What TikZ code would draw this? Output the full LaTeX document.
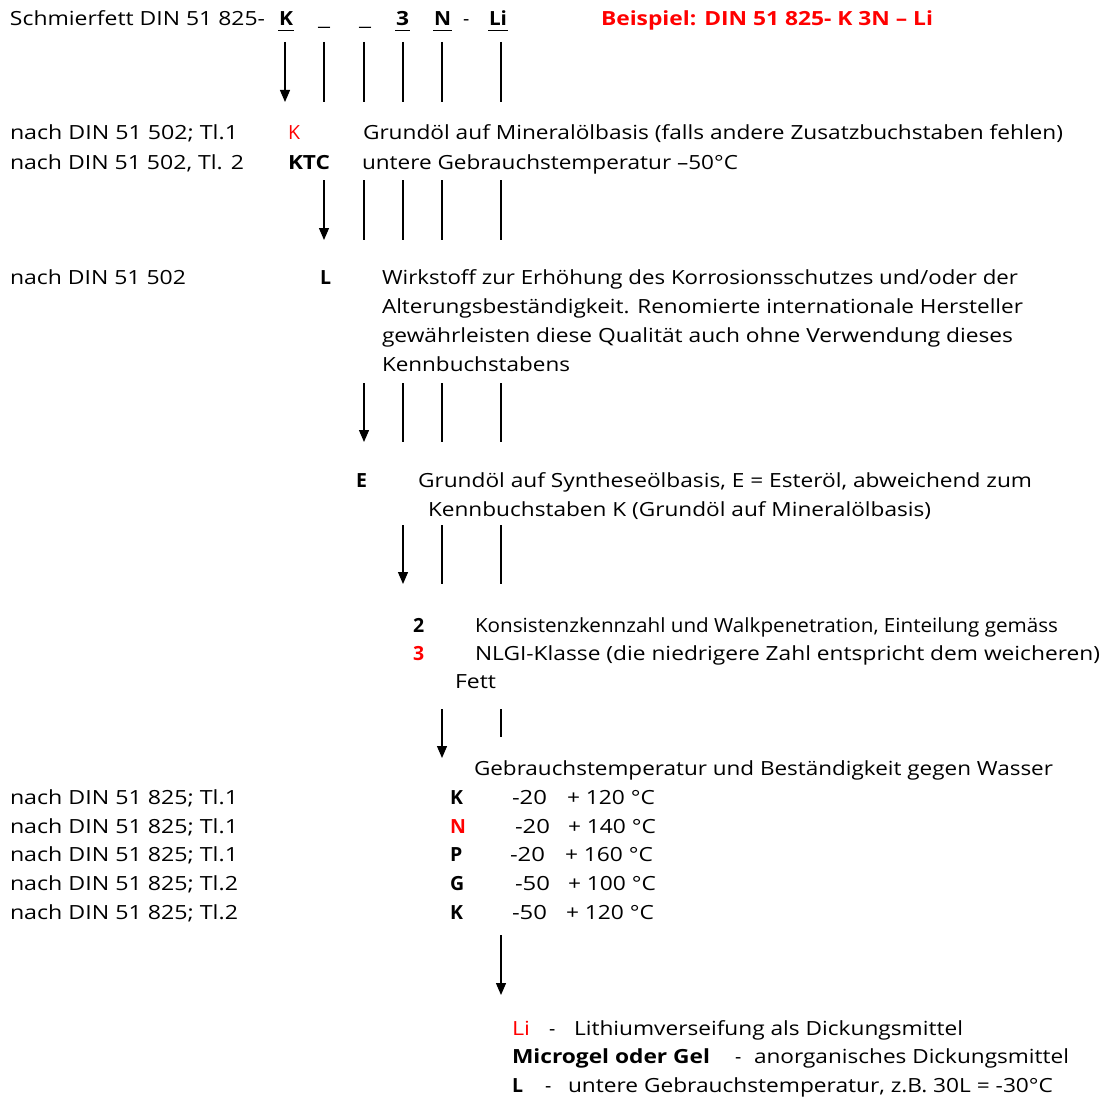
\documentclass[tikz,border=0pt]{standalone}
\usepackage{fontspec}
\setmainfont{Open Sans}
\usepackage{graphicx}
\usetikzlibrary{arrows.meta}
\newsavebox\fitbox
\newcommand\fitto[2]{\sbox\fitbox{#2}\pgfmathsetmacro\fitfac{#1/\the\wd\fitbox}\scalebox{\fitfac}[1]{\usebox\fitbox}}
\newcommand\fs{\fontsize{19.5}{23}\selectfont}
\begin{document}
\begin{tikzpicture}[x=1pt,y=-1pt,
  every node/.style={inner sep=0pt,outer sep=0pt,anchor=base west,font=\fs},
  bld/.style={font=\fs\bfseries},
  rd/.style={text=red},
  ln/.style={line width=1.8pt},
  arr/.style={line width=1.3pt,-{Triangle[length=12pt,width=10pt]}},
  ul/.style={line width=1.5pt}]
\useasboundingbox (0,0) rectangle (1111,1097);
% header
\node (h0) at (10,26) {\fitto{255}{Schmierfett DIN 51 825-}};
\node[bld] (hK) at (279,26) {\fitto{14}{K}};
\node (hu1) at (318,26) {\fitto{12}{\_}};
\node (hu2) at (359,26) {\fitto{12}{\_}};
\node[bld] (h3) at (396,26) {\fitto{13}{3}};
\node[bld] (hN) at (434,26) {\fitto{17}{N}};
\node (hd) at (463,26) {-};
\node[bld] (hLi) at (489,26) {\fitto{18}{Li}};
\foreach \n in {hK,h3,hN,hLi}{\draw[ul] ([xshift=-1pt,yshift=-4.5pt]\n.base west) -- ([xshift=1pt,yshift=-4.5pt]\n.base east);}
\node[bld,rd] (bsp) at (601,26) {\fitto{332}{Beispiel: DIN 51 825- K 3N – Li}};
% row 1 connectors
\foreach \x/\n in {285/a,324/b,364/c,403/d,442/e,501/f}{
  \coordinate (r1\n s) at (\x,42); \coordinate (r1\n e) at (\x,102);}
\draw[arr] (r1as) -- (r1ae);
\foreach \n in {b,c,d,e,f}{\draw[ln] (r1\n s) -- (r1\n e);}
% K rows
\node (k1l) at (10,140) {\fitto{228}{nach DIN 51 502; Tl.1}};
\node[rd] (k1c) at (288,140) {K};
\node (k1t) at (363,140) {\fitto{700}{Grundöl auf Mineralölbasis (falls andere Zusatzbuchstaben fehlen)}};
\node (k2l) at (10,169) {\fitto{234}{nach DIN 51 502, Tl. 2}};
\node[bld] (k2c) at (288,169) {\fitto{42}{KTC}};
\node (k2t) at (362,169) {\fitto{376}{untere Gebrauchstemperatur –50°C}};
% row 2 connectors
\foreach \x/\n in {324/b,364/c,403/d,442/e,501/f}{
  \coordinate (r2\n s) at (\x,180); \coordinate (r2\n e) at (\x,240);}
\draw[arr] (r2bs) -- (r2be);
\foreach \n in {c,d,e,f}{\draw[ln] (r2\n s) -- (r2\n e);}
% L row
\node (l0) at (10,284) {\fitto{176}{nach DIN 51 502}};
\node[bld] (lc) at (320,284) {L};
\node (lt1) at (382,284) {\fitto{636}{Wirkstoff zur Erhöhung des Korrosionsschutzes und/oder der}};
\node (lt2) at (382,313) {\fitto{641}{Alterungsbeständigkeit. Renomierte internationale Hersteller}};
\node (lt3) at (382,342) {\fitto{631}{gewährleisten diese Qualität auch ohne Verwendung dieses}};
\node (lt4) at (382,371) {\fitto{188}{Kennbuchstabens}};
% row 3 connectors
\foreach \x/\n in {364/c,403/d,442/e,501/f}{
  \coordinate (r3\n s) at (\x,383); \coordinate (r3\n e) at (\x,442);}
\draw[arr] (r3cs) -- (r3ce);
\foreach \n in {d,e,f}{\draw[ln] (r3\n s) -- (r3\n e);}
% E row
\node[bld] (ec) at (356,487) {E};
\node (et1) at (418,487) {\fitto{614}{Grundöl auf Syntheseölbasis, E = Esteröl, abweichend zum}};
\node (et2) at (428,516) {\fitto{503}{Kennbuchstaben K (Grundöl auf Mineralölbasis)}};
% row 4 connectors
\foreach \x/\n in {403/d,442/e,501/f}{
  \coordinate (r4\n s) at (\x,525); \coordinate (r4\n e) at (\x,584);}
\draw[arr] (r4ds) -- (r4de);
\foreach \n in {e,f}{\draw[ln] (r4\n s) -- (r4\n e);}
% NLGI
\node[bld] (n2) at (413,632) {2};
\node (nt1) at (475,632) {\fitto{583}{Konsistenzkennzahl und Walkpenetration, Einteilung gemäss}};
\node[bld,rd] (n3) at (413,660) {3};
\node (nt2) at (475,660) {\fitto{625}{NLGI-Klasse (die niedrigere Zahl entspricht dem weicheren)}};
\node (nt3) at (455,688) {\fitto{41}{Fett}};
% row 5 connectors
\coordinate (r5es) at (442,709); \coordinate (r5ee) at (442,758);
\coordinate (r5fs) at (501,709); \coordinate (r5fe) at (501,737);
\draw[arr] (r5es) -- (r5ee);
\draw[ln] (r5fs) -- (r5fe);
% temperature table
\node (gt) at (474,775) {\fitto{579}{Gebrauchstemperatur und Beständigkeit gegen Wasser}};
\foreach \y/\tl/\c/\cl/\xa/\ta/\xb/\tb/\nm in {
   804/1/K/black/512/-20/567/{+ 120 °C}/1,
   833/1/N/red/515/-20/568/{+ 140 °C}/2,
   861/1/P/black/510/-20/565/{+ 160 °C}/3,
   890/2/G/black/515/-50/568/{+ 100 °C}/4,
   919/2/K/black/512/-50/566/{+ 120 °C}/5}{
  \node (tl\nm) at (10,\y) {\fitto{228}{nach DIN 51 825; Tl.\tl}};
  \node[bld,text=\cl] (tc\nm) at (450,\y) {\c};
  \node (ta\nm) at (\xa,\y) {\fitto{35}{\ta}};
  \node (tb\nm) at (\xb,\y) {\fitto{88}{\tb}};
}
% row 6 connector
\coordinate (r6fs) at (501,935); \coordinate (r6fe) at (501,995);
\draw[arr] (r6fs) -- (r6fe);
% thickener
\node[rd] (li) at (512,1035) {\fitto{18}{Li}};
\node (lid) at (549,1035) {-};
\node (lit) at (574,1035) {\fitto{389}{Lithiumverseifung als Dickungsmittel}};
\node[bld] (mg) at (512,1063) {\fitto{198}{Microgel oder Gel}};
\node (mgd) at (735,1063) {-};
\node (mgt) at (754,1063) {\fitto{315}{anorganisches Dickungsmittel}};
\node[bld] (lL) at (512,1092) {L};
\node (lLd) at (545,1092) {-};
\node (lLt) at (568,1092) {\fitto{485}{untere Gebrauchstemperatur, z.B. 30L = -30°C}};
\end{tikzpicture}
\end{document}
